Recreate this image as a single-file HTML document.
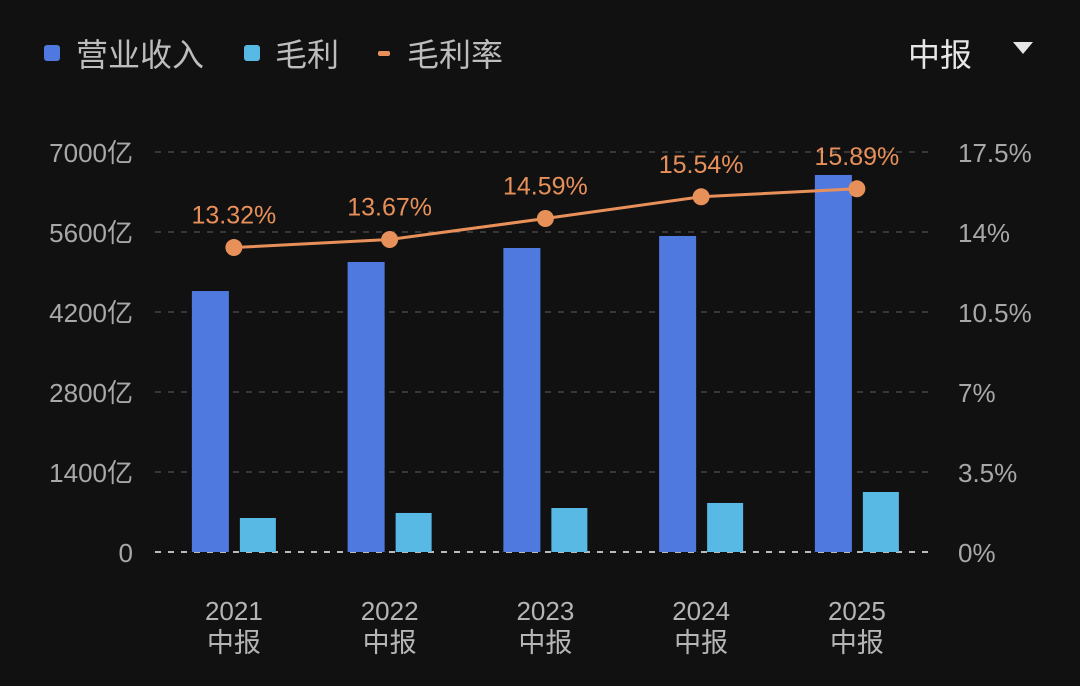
<!DOCTYPE html>
<html><head><meta charset="utf-8"><style>
html,body{margin:0;padding:0;background:#111;}
body{width:1080px;height:681px;overflow:hidden;font-family:"Liberation Sans","Noto Sans CJK SC",sans-serif;}
</style></head><body>
<svg id="chart" width="1080" height="681" xmlns="http://www.w3.org/2000/svg" style="background:#111">
<g font-size="32" fill="#bdbdbd">
 <rect x="44" y="45" width="16" height="16" rx="3" fill="#5079e0"/>
 <text x="76" y="66">营业收入</text>
 <rect x="244" y="45" width="16" height="16" rx="3" fill="#58b9e4"/>
 <text x="275" y="66">毛利</text>
 <rect x="378" y="51" width="12" height="5" rx="2" fill="#e8905a"/>
 <text x="407" y="66">毛利率</text>
</g>
<g>
 <text x="908" y="66" font-size="32" fill="#e6e6e6">中报</text>
 <path d="M1013 42 L1033 42 L1023 54 Z" fill="#e6e6e6"/>
</g>
<g id="grid"></g><g id="bars"></g><g id="line"></g><g id="axes"></g>
</svg>
<script>
const categories=["2021","2022","2023","2024","2025"];
const revenue=[4567,5075,5320,5530,6598];
const grossProfit=[595,683,770,858,1050];
const grossMargin=[13.32,13.67,14.59,15.54,15.89];
const leftTicks=[0,1400,2800,4200,5600,7000];
const rightTicks=["0%","3.5%","7%","10.5%","14%","17.5%"];
const NS="http://www.w3.org/2000/svg";
const yTop=152,yBot=552,leftMax=7000,rightMax=17.5;
const yL=v=>yBot-v/leftMax*(yBot-yTop);
const yR=v=>yBot-v/rightMax*(yBot-yTop);
const x0=156,step=155.75;
const xC=i=>x0+step*(i+0.5);
function mk(tag,attrs,parent){const e=document.createElementNS(NS,tag);for(const k in attrs)e.setAttribute(k,attrs[k]);parent.appendChild(e);return e;}
const grid=document.getElementById('grid'),axes=document.getElementById('axes'),bars=document.getElementById('bars'),line=document.getElementById('line');
leftTicks.forEach((t,i)=>{
 const y=yL(t);
 const g=mk('line',{x1:155,x2:928,y1:y,y2:y,stroke:i==0?'#bbb':'#444','stroke-width':i==0?2:1.5,'stroke-dasharray':'6 7'},grid);
 
 
 const l=mk('text',{x:133,y:y+10,'text-anchor':'end','font-size':26,fill:'#a8a8a8'},axes);
 l.textContent=t+(t===0?'':'亿');
 
 
 const r=mk('text',{x:958,y:y+10,'font-size':26,fill:'#a8a8a8'},axes);
 r.textContent=rightTicks[i];
 
 
});
categories.forEach((c,i)=>{
 const cx=xC(i);
 const b1=mk('rect',{x:cx-42,y:yL(revenue[i]),width:37,height:yBot-yL(revenue[i]),fill:'#5079e0'},bars);
 
 
 const b2=mk('rect',{x:cx+6,y:yL(grossProfit[i]),width:36,height:yBot-yL(grossProfit[i]),fill:'#58b9e4'},bars);
 
 
 const t1=mk('text',{x:cx,y:620,'text-anchor':'middle','font-size':26,fill:'#b5b5b5'},axes);
 t1.textContent=c;
 
 
 const t2=mk('text',{x:cx,y:652,'text-anchor':'middle','font-size':27,fill:'#b5b5b5'},axes);
 t2.textContent='中报';
 
 
});
const pts=grossMargin.map((v,i)=>xC(i)+','+yR(v)).join(' ');
const pl=mk('polyline',{points:pts,fill:'none',stroke:'#e8905a','stroke-width':3},line);


grossMargin.forEach((v,i)=>{
 const c=mk('circle',{cx:xC(i),cy:yR(v),r:8.5,fill:'#e8905a'},line);
 
 
 const t=mk('text',{x:xC(i),y:yR(v)-24,'text-anchor':'middle','font-size':25,fill:'#e8905a'},line);
 t.textContent=v.toFixed(2)+'%';
 
 
});
</script>
</body></html>
